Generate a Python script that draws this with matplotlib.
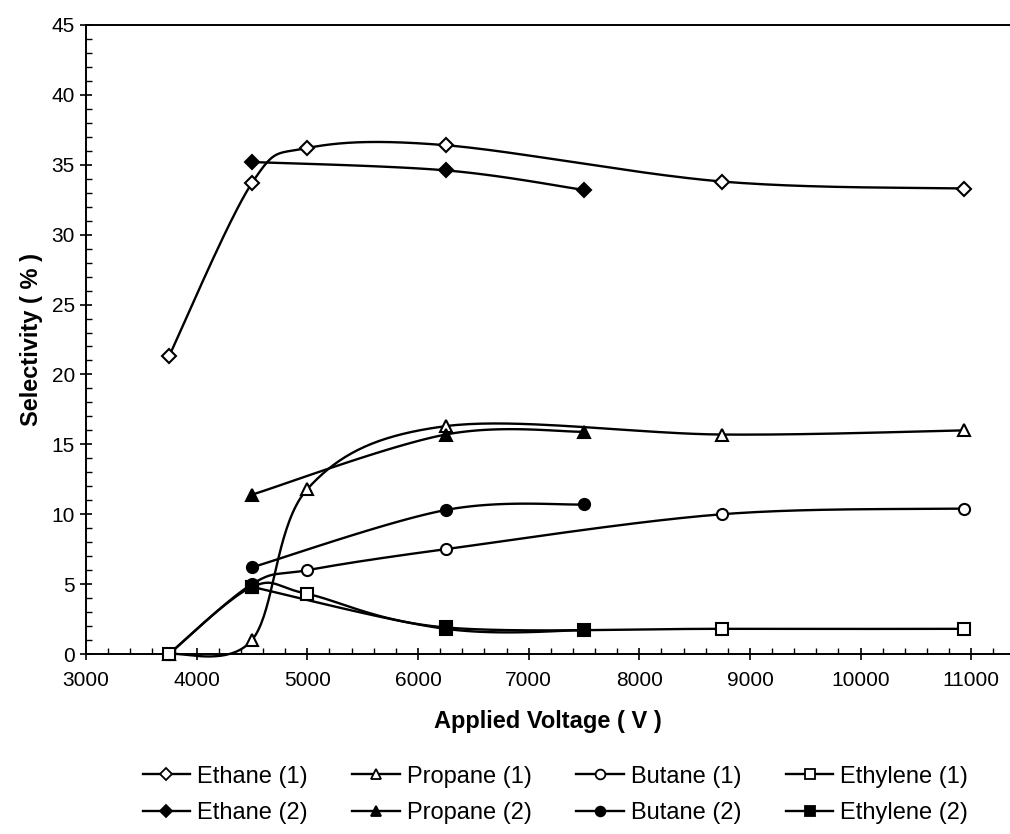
import numpy as np
import matplotlib
matplotlib.use("Agg")
import matplotlib.pyplot as plt
from matplotlib.lines import Line2D
from matplotlib.ticker import MultipleLocator

plt.rcParams['font.family'] = ['Liberation Sans', 'DejaVu Sans']

# voltages (V)
volt_1 = [3750, 4500, 5000, 6250, 8750, 10937]
volt_2 = [4500, 6250, 7500]

# selectivity (%)
ethane_1 = [21.3, 33.7, 36.2, 36.4, 33.8, 33.3]
propane_1 = [0.0, 1.0, 11.8, 16.3, 15.7, 16.0]
butane_1 = [0.0, 5.0, 6.0, 7.5, 10.0, 10.4]
ethylene_1 = [0.0, 4.8, 4.3, 1.9, 1.8, 1.8]

ethane_2 = [35.2, 34.6, 33.2]
propane_2 = [11.4, 15.7, 15.9]
butane_2 = [6.2, 10.3, 10.7]
ethylene_2 = [4.8, 1.8, 1.7]


def smooth(x, y, n=40):
    # excel-like smoothed line (catmull-rom bezier)
    p = np.column_stack([x, y]).astype(float)
    pts = np.vstack([p[0], p, p[-1]])
    out = []
    for i in range(1, len(pts) - 2):
        p0, p1, p2, p3 = pts[i - 1], pts[i], pts[i + 1], pts[i + 2]
        c1 = p1 + (p2 - p0) / 6
        c2 = p2 - (p3 - p1) / 6
        t = np.linspace(0, 1, n)[:, None]
        seg = ((1 - t) ** 3) * p1 + 3 * ((1 - t) ** 2) * t * c1 + 3 * (1 - t) * t ** 2 * c2 + t ** 3 * p2
        out.append(seg if i == 1 else seg[1:])
    s = np.vstack(out)
    return s[:, 0], s[:, 1]


series = [
    ("Ethane (1)", volt_1, ethane_1, "D", "white", 7),
    ("Ethane (2)", volt_2, ethane_2, "D", "black", 7),
    ("Propane (1)", volt_1, propane_1, "^", "white", 8),
    ("Propane (2)", volt_2, propane_2, "^", "black", 8),
    ("Butane (1)", volt_1, butane_1, "o", "white", 8),
    ("Butane (2)", volt_2, butane_2, "o", "black", 8),
    ("Ethylene (1)", volt_1, ethylene_1, "s", "white", 8),
    ("Ethylene (2)", volt_2, ethylene_2, "s", "black", 8),
]

fig = plt.figure(figsize=(10.1, 8.34), dpi=100)
ax = fig.add_axes([86 / 1010, 1 - 654 / 834, 1 - 86 / 1010, (654 - 25) / 834])

handles = []
for name, x, y, mk, fc, ms in series:
    sx, sy = smooth(x, y)
    ax.plot(sx, sy, color="black", lw=1.7, clip_on=False, zorder=2)
    ax.plot(x, y, ls="none", marker=mk, ms=ms, mfc=fc, mec="black", mew=1.5,
            clip_on=False, zorder=3)
    handles.append(Line2D([], [], color="black", lw=1.7, marker=mk, ms=ms - 1,
                          mfc=fc, mec="black", mew=1.3, label=name))

ax.set_xlim(3000, 11350)
ax.set_ylim(0, 45)
ax.xaxis.set_major_locator(MultipleLocator(1000))
ax.xaxis.set_minor_locator(MultipleLocator(200))
ax.yaxis.set_major_locator(MultipleLocator(5))
ax.yaxis.set_minor_locator(MultipleLocator(1))
ax.tick_params(which="major", direction="inout", length=9, width=1.2, labelsize=15)
ax.tick_params(which="minor", direction="in", length=4, width=1.0)
ax.tick_params(axis="x", pad=8)
ax.spines["right"].set_visible(False)
for s in ["left", "bottom", "top"]:
    ax.spines[s].set_linewidth(1.4)

ax.set_xlabel("Applied Voltage ( V )", fontsize=17, fontweight="bold", labelpad=14)
ax.set_ylabel("Selectivity ( % )", fontsize=17, fontweight="bold", labelpad=6)

fig.legend(handles=handles, ncol=4, loc="center", bbox_to_anchor=(0.55, 0.047),
           frameon=False, fontsize=17, handlelength=2.0, handletextpad=0.3,
           columnspacing=1.9, labelspacing=0.6)

fig.savefig("out.png", dpi=100)
